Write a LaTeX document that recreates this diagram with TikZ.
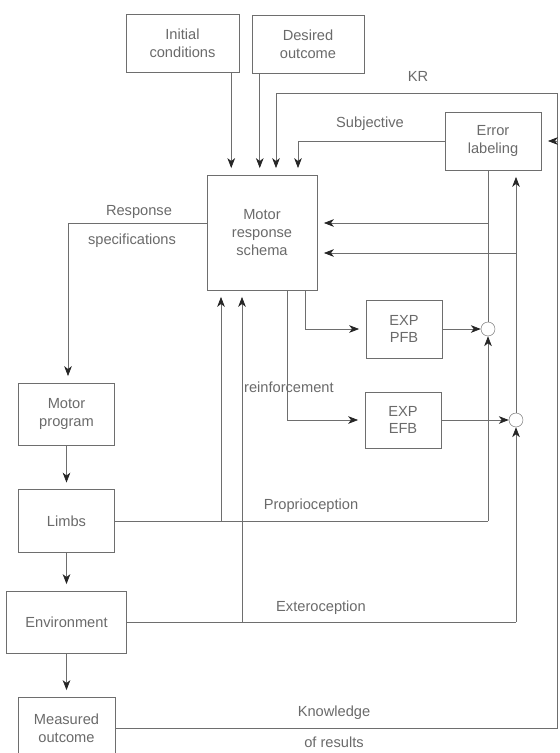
\documentclass[tikz,border=0pt]{standalone}
\usepackage{fontspec}
\setmainfont{Liberation Sans}
\usepackage{tikz}
\usepackage{xcolor}
\usetikzlibrary{arrows.meta,positioning,calc}
\definecolor{Ink}{HTML}{6E6E6E}
\definecolor{Tip}{HTML}{262626}
\definecolor{Txt}{HTML}{6A6A6A}

\begin{document}
\begin{tikzpicture}[
  x=0.03cm,y=-0.03cm,
  box/.style={draw=Ink,thin,align=center,inner sep=2pt,font=\fontsize{12.5}{15}\selectfont,text=Txt},
  cmp/.style={circle,draw=Ink,thin,minimum size=0.42cm,inner sep=0pt},
  line/.style={draw=Ink,line width=0.6pt},
  arr/.style={line,-{Stealth[length=8.5pt,width=6.5pt,inset=2.5pt,color=Tip]},shorten >=2mm},
  carr/.style={line,-{Stealth[length=8.5pt,width=6.5pt,inset=2.5pt,color=Tip]}},
  note/.style={font=\fontsize{12.5}{15}\selectfont,text=Txt}
]
\useasboundingbox (0,0) rectangle (560,753);
% boxes
\node[box,minimum width=3.39cm,minimum height=1.74cm] (init) at (182.5,43) {Initial\\conditions};
\node[box,minimum width=3.36cm,minimum height=1.74cm] (desired) at (308,44) {Desired\\outcome};
\node[box,minimum width=3.3cm,minimum height=3.45cm] (schema) at (262,232.5) {Motor\\response\\schema};
\node[box,minimum width=2.88cm,minimum height=1.74cm] (errlab) at (493,141) {Error\\labeling};
\node[box,minimum width=2.28cm,minimum height=1.74cm] (pfb) at (404,329) {EXP\\PFB};
\node[box,minimum width=2.28cm,minimum height=1.68cm] (efb) at (403,420) {EXP\\EFB};
\node[box,minimum width=2.88cm,minimum height=1.86cm] (prog) at (66.5,414) {Motor\\program};
\node[box,minimum width=2.88cm,minimum height=1.89cm] (limbs) at (66.5,521) {Limbs};
\node[box,minimum width=3.6cm,minimum height=1.86cm] (env) at (66.5,622) {Environment};
\node[box,minimum width=2.91cm,minimum height=1.86cm] (meas) at (66.5,728) {Measured\\outcome};
\node[cmp] (c1) at (488,329) {};
\node[cmp] (c2) at (516,420) {};
% junctions
\coordinate (rt) at (557,93);
\coordinate (kr) at (276,93);
\coordinate (sj) at (298,141);
\coordinate (rs) at (68,223);
\coordinate (f1) at (488,223);
\coordinate (f2) at (516,253);
\coordinate (sp) at (305,329);
\coordinate (se) at (287,420);
\coordinate (lu) at (221,521);
\coordinate (pp) at (488,521);
\coordinate (eu) at (242,622);
\coordinate (ep) at (516,622);
\coordinate (ia) at ([xshift=-0.24cm]init.south east);
\coordinate (da) at ([xshift=0.24cm]desired.south west);
% connectors
\draw[arr] (ia) -- (ia |- schema.north);
\draw[arr] (da) -- (da |- schema.north);
\draw[arr] (meas.east) -- (meas.east -| rt) -- (rt) -- (kr) -- (kr |- schema.north);
\draw[arr] (errlab.east -| rt) -- (errlab.east);
\draw[arr] (errlab.west) -- (sj) -- (sj |- schema.north);
\draw[arr] (rs -| schema.west) -- (rs) -- (rs |- prog.north);
\draw[line] (c1.north) -- (c1 |- errlab.south);
\draw[arr] (c2.north) -- (c2 |- errlab.south);
\draw[arr] (f1) -- (f1 -| schema.east);
\draw[arr] (f2) -- (f2 -| schema.east);
\draw[arr] (sp |- schema.south) -- (sp) -- (pfb.west);
\draw[arr] (se |- schema.south) -- (se) -- (efb.west);
\draw[carr] (pfb.east) -- (c1.west);
\draw[carr] (efb.east) -- (c2.west);
\draw[line] (limbs.east) -- (pp);
\draw[carr] (pp) -- (c1.south);
\draw[arr] (lu) -- (lu |- schema.south);
\draw[line] (env.east) -- (ep);
\draw[carr] (ep) -- (c2.south);
\draw[arr] (eu) -- (eu |- schema.south);
\draw[arr] (prog) -- (limbs);
\draw[arr] (limbs) -- (env);
\draw[arr] (env) -- (meas);
% labels
\node[note] (lkr) at (418,76) {KR};
\node[note] (lsubj) at (370,124) {Subjective};
\node[note] (lresp) at (139,212) {Response};
\node[note] (lspec) at (132,241) {specifications};
\node[note,anchor=west] (lreinf) at (240,387) {reinforcement};
\node[note] (lprop) at (311,506) {Proprioception};
\node[note] (lext) at (321,608) {Exteroception};
\node[note] (lkn) at (334,713) {Knowledge};
\node[note] (lres) at (334,742) {of results};
\end{tikzpicture}
\end{document}
